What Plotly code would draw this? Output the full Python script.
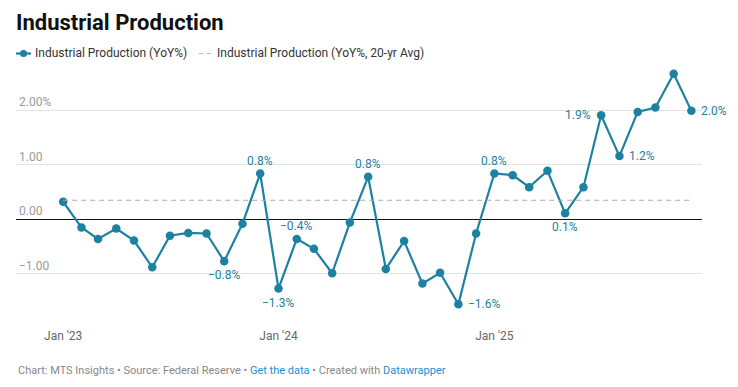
import plotly.graph_objects as go

months = [
    "2023-01-01", "2023-02-01", "2023-03-01", "2023-04-01", "2023-05-01", "2023-06-01",
    "2023-07-01", "2023-08-01", "2023-09-01", "2023-10-01", "2023-11-01", "2023-12-01",
    "2024-01-01", "2024-02-01", "2024-03-01", "2024-04-01", "2024-05-01", "2024-06-01",
    "2024-07-01", "2024-08-01", "2024-09-01", "2024-10-01", "2024-11-01", "2024-12-01",
    "2025-01-01", "2025-02-01", "2025-03-01", "2025-04-01", "2025-05-01", "2025-06-01",
    "2025-07-01", "2025-08-01", "2025-09-01", "2025-10-01", "2025-11-01", "2025-12-01",
]
yoy = [
    0.32, -0.15, -0.36, -0.17, -0.39, -0.88, -0.30, -0.25, -0.26, -0.77, -0.08, 0.84,
    -1.27, -0.36, -0.54, -0.99, -0.06, 0.78, -0.91, -0.40, -1.18, -0.98, -1.56, -0.26,
    0.84, 0.81, 0.59, 0.89, 0.11, 0.59, 1.91, 1.16, 1.97, 2.05, 2.67, 1.99,
]
avg_20yr = 0.35

series_names = ["Industrial Production (YoY%)", "Industrial Production (YoY%, 20-yr Avg)"]
x_tick_vals = ["2023-01-01", "2024-01-01", "2025-01-01"]
x_tick_text = ["Jan '23", "Jan '24", "Jan '25"]
y_tick_vals = [-1, 0, 1, 2]
y_tick_text = ["\u22121.00", "0.00", "1.00", "2.00%"]

# index -> label placement
label_pos = {9: "below", 11: "above", 12: "below", 13: "above", 17: "above",
             22: "right", 24: "above", 28: "below", 30: "left", 31: "right", 35: "right"}

TEAL = "#1d81a2"
FONT = "Roboto, Arial, sans-serif"

# page body has an 8px margin; layout is expressed in window pixels
PL, PR, PT, PB = 16, 702, 62, 322          # plot area in window pixels
W, H = 722, 371                              # figure size


def px(p):
    return (p - PL) / (PR - PL)


def py(p):
    return (PB - p) / (PB - PT)


fig = go.Figure()
fig.add_trace(go.Scatter(
    x=months, y=yoy, mode="lines+markers", name=series_names[0],
    line=dict(color=TEAL, width=2.2), marker=dict(color=TEAL, size=8.5),
    hoverinfo="skip", showlegend=False,
))
fig.add_trace(go.Scatter(
    x=[months[0], months[-1]], y=[avg_20yr, avg_20yr], mode="lines",
    name=series_names[1],
    line=dict(color="#aaaaaa", width=1.2, dash="5px,4px"), hoverinfo="skip", showlegend=False,
))


def fmt(v):
    return f"{v:.1f}%".replace("-", "\u2212")


ann = []
for i, pos in label_pos.items():
    a = dict(x=months[i], y=yoy[i], xref="x", yref="y", text=fmt(yoy[i]),
             showarrow=False, font=dict(family=FONT, size=12, color=TEAL))
    if pos == "above":
        a.update(yshift=13, yanchor="middle")
    elif pos == "below":
        a.update(yshift=-14, yanchor="middle")
    elif pos == "right":
        a.update(xanchor="left", xshift=8)
    elif pos == "left":
        a.update(xanchor="right", xshift=-8)
    ann.append(a)

# custom legend
LEG_Y = 53.5
ann.append(dict(x=px(33), y=py(LEG_Y), xref="paper", yref="paper", showarrow=False,
                text=series_names[0], xanchor="left", yanchor="middle",
                font=dict(family=FONT, size=12, color="#333333")))
ann.append(dict(x=px(215), y=py(LEG_Y), xref="paper", yref="paper", showarrow=False,
                text=series_names[1], xanchor="left", yanchor="middle",
                font=dict(family=FONT, size=12, color="#333333")))

shapes = [
    dict(type="line", xref="paper", yref="paper", x0=px(16), x1=px(31), y0=py(LEG_Y), y1=py(LEG_Y),
         line=dict(color=TEAL, width=2.2)),
    dict(type="circle", xref="paper", yref="paper", xsizemode="pixel", ysizemode="pixel",
         xanchor=px(23.5), yanchor=py(LEG_Y), x0=-3.6, x1=3.6, y0=-3.6, y1=3.6,
         fillcolor=TEAL, line=dict(color=TEAL, width=0)),
    dict(type="line", xref="paper", yref="paper", x0=px(199), x1=px(211), y0=py(LEG_Y), y1=py(LEG_Y),
         line=dict(color="#bbbbbb", width=1.2, dash="4px,4px")),
]

# footer
ann.append(dict(
    x=0, y=py(370), xref="paper", yref="paper", showarrow=False,
    text=("Chart: MTS Insights \u2022 Source: Federal Reserve \u2022 "
          "<span style='color:#1a8fd1'>Get the data</span> \u2022 Created with "
          "<span style='color:#1a8fd1'>Datawrapper</span>"),
    font=dict(family=FONT, size=11, color="#888888"), xanchor="left", yanchor="middle",
))

fig.update_layout(
    width=W, height=H,
    margin=dict(l=PL - 8, r=W - (PR - 8), t=PT - 8, b=H - (PB - 8)),
    paper_bgcolor="white", plot_bgcolor="white",
    font=dict(family=FONT, color="#333333"),
    title=dict(text="<b>Industrial Production</b>", x=(16 - 8) / W, xanchor="left",
               xref="container", yref="container", y=1 - (22 - 8) / H, yanchor="middle",
               font=dict(family=FONT, size=22, color="#111111")),
    showlegend=False,
    xaxis=dict(type="date", range=["2022-10-13", "2025-12-19"], tickvals=x_tick_vals,
               ticktext=x_tick_text, showgrid=False, zeroline=False, showline=False,
               ticks="", ticklabelstandoff=5,
               tickfont=dict(family=FONT, size=12, color="#666666"), fixedrange=True),
    yaxis=dict(range=[-(PB - 219.3) / 54.5, (219.3 - PT) / 54.5], tickvals=y_tick_vals,
               ticktext=y_tick_text, ticklabelposition="inside top",
               showgrid=True, gridcolor="#e3e3e3", gridwidth=1,
               zeroline=True, zerolinecolor="#111111", zerolinewidth=1,
               showline=False, ticks="", tickfont=dict(family=FONT, size=12, color="#999999"),
               fixedrange=True),
    annotations=ann,
    shapes=shapes,
)

fig.write_html("out.html")
